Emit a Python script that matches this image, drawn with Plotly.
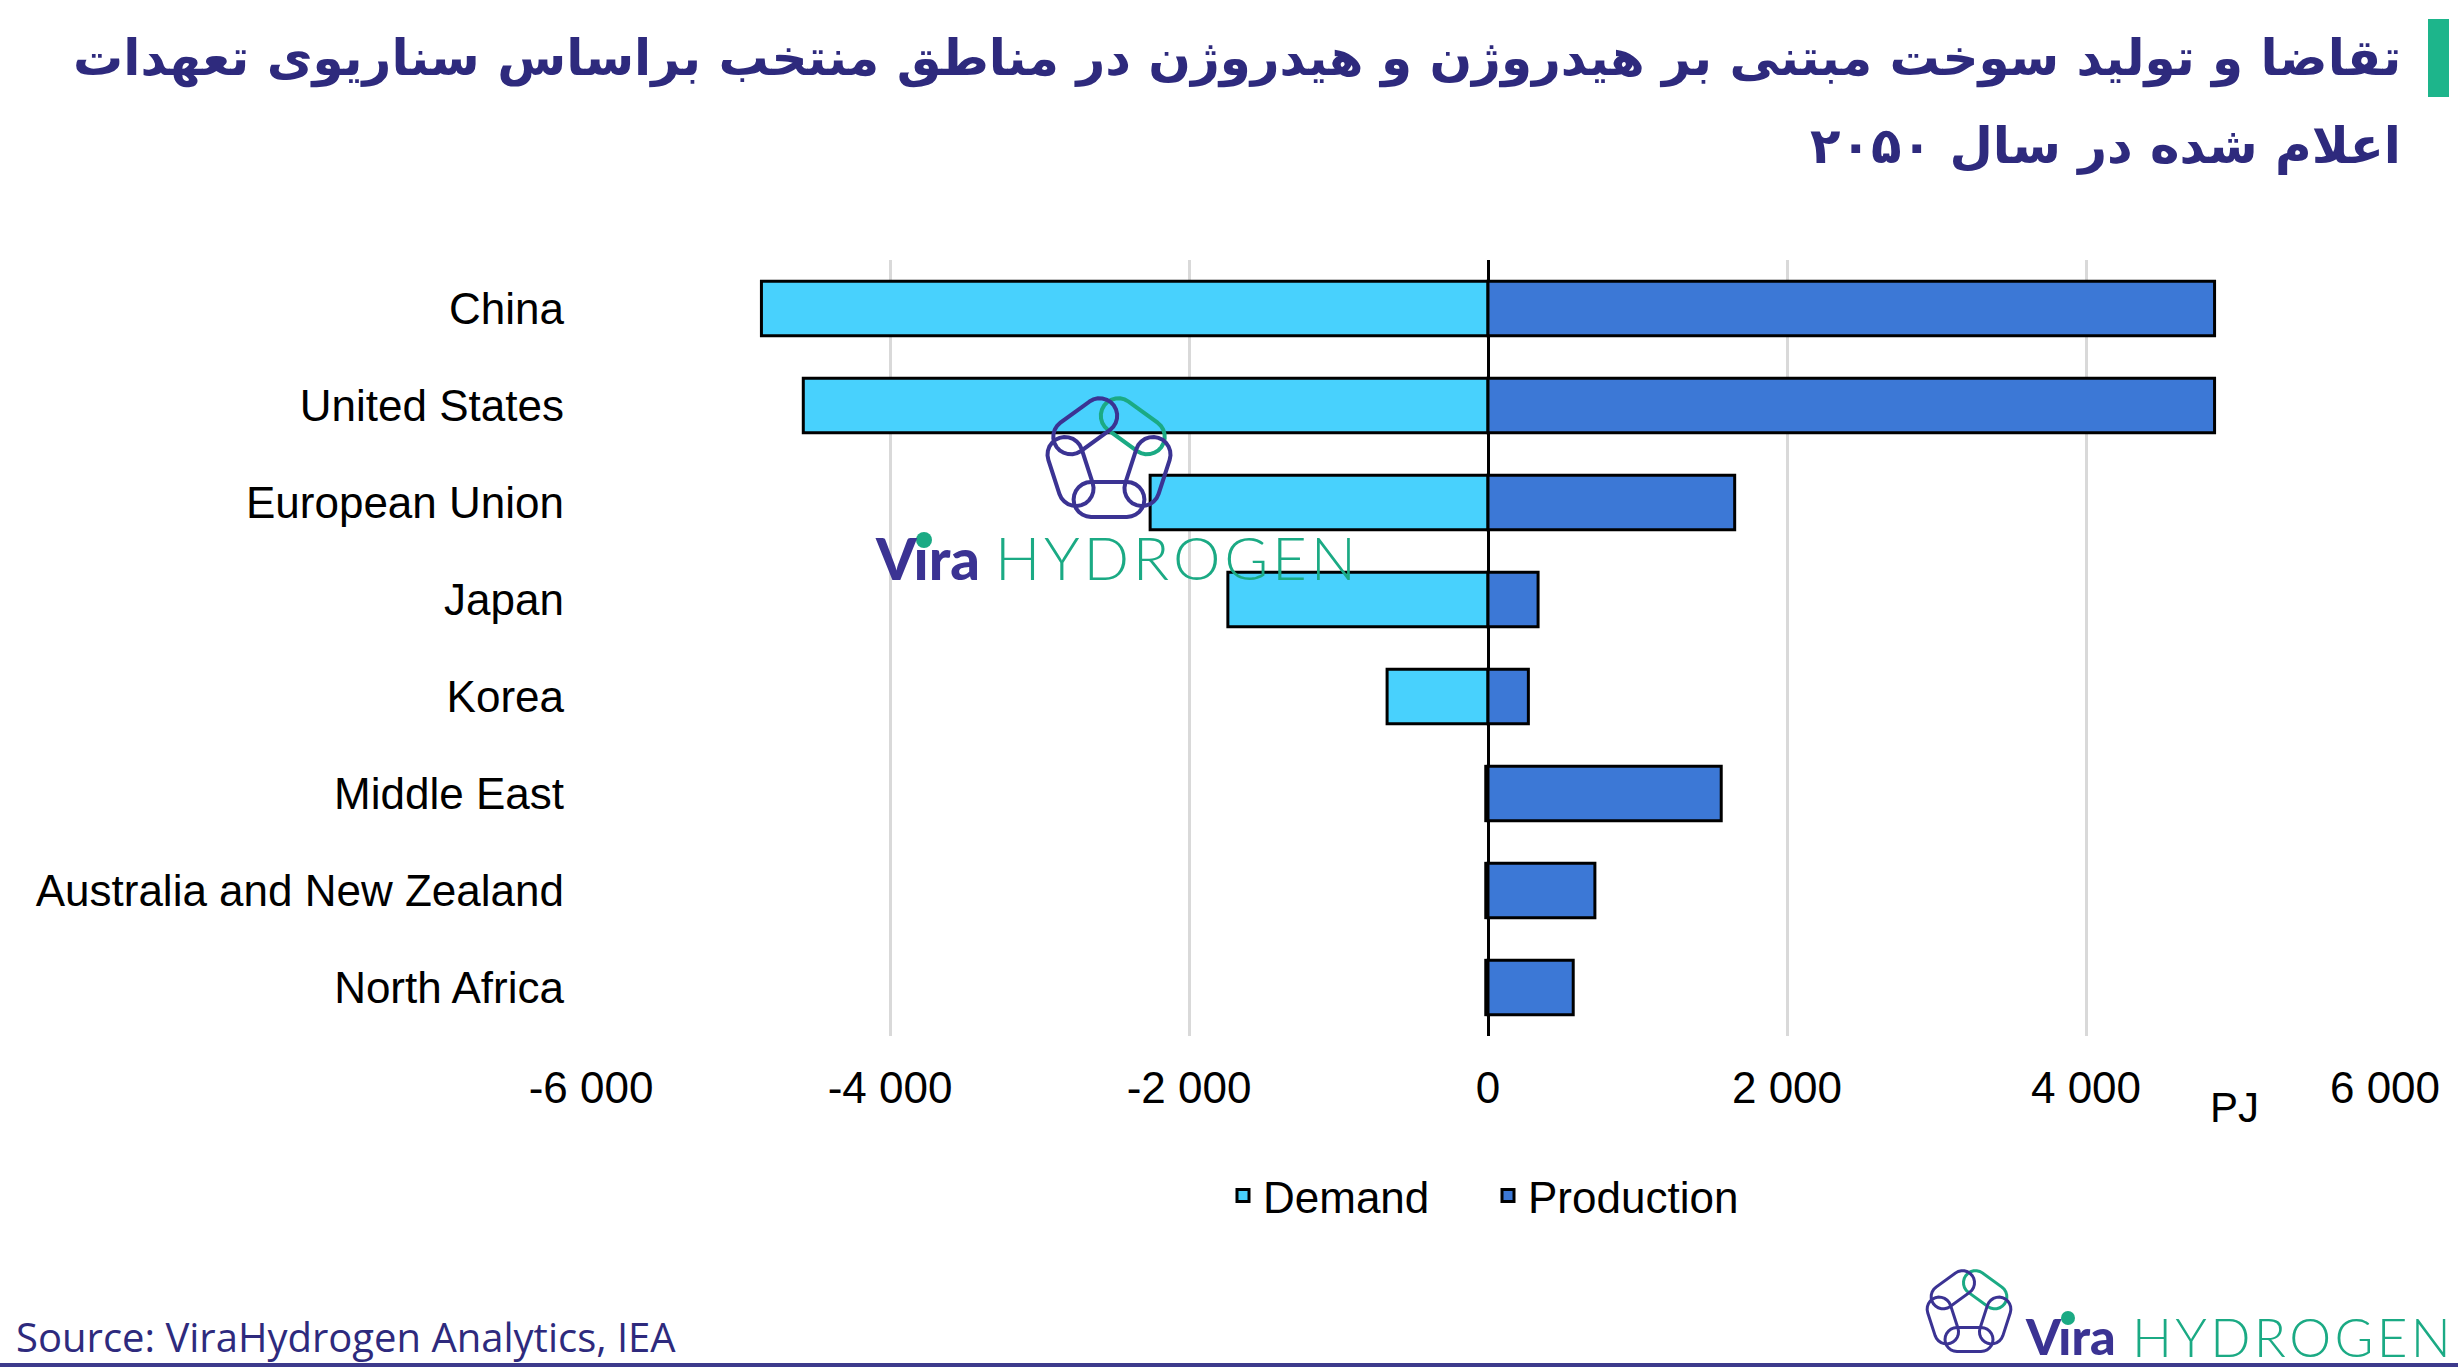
import math
import plotly.graph_objects as go

# data (PJ, 2050, announced pledges scenario)
regions = ["China", "United States", "European Union", "Japan", "Korea",
           "Middle East", "Australia and New Zealand", "North Africa"]
demand = [-4860, -4580, -2260, -1740, -675, -15, -15, -15]
production = [4860, 4860, 1650, 335, 270, 1560, 715, 570]
x_ticks = [-6000, -4000, -2000, 0, 2000, 4000, 6000]
x_tick_labels = ["-6 000", "-4 000", "-2 000", "0", "2 000", "4 000", "6 000"]

title_1 = "تقاضا و تولید سوخت مبتنی بر هیدروژن و هیدروژن در مناطق منتخب براساس سناریوی تعهدات"
title_2 = "اعلام شده در سال ۲۰۵۰"
source = "Source: ViraHydrogen Analytics, IEA"

W, H = 2458, 1372
L, R, T, B = 591, 73, 260, 336
NAVY = "#2E2A7D"
LOGO_NAVY = "#3B3393"
GREEN = "#1BAA84"
HYD = "\u200a".join("HYDROGEN")


def px(x):
    return (x - L) / (W - L - R)


def py(y):
    return (H - B - y) / (H - T - B)


def link_path(cx, cy, ang, length, width):
    r = width / 2
    half = length / 2 - r
    ca, sa = math.cos(ang), math.sin(ang)
    pts = []
    for end, start in ((half, -90), (-half, 90)):
        for k in range(13):
            t = math.radians(start + 15 * k)
            lx = end + r * math.cos(t)
            ly = r * math.sin(t)
            pts.append((cx + lx * ca - ly * sa, cy + lx * sa + ly * ca))
    return "M" + " L".join(f"{px(a):.5f},{py(b):.5f}" for a, b in pts) + " Z"


def logo_shapes(cx, cy, rad, width, extra, lw):
    verts = [(cx + rad * math.cos(math.radians(90 - 72 * k)),
              cy - rad * math.sin(math.radians(90 - 72 * k))) for k in range(5)]
    out = []
    for k in range(5):
        (x1, y1), (x2, y2) = verts[k], verts[(k + 1) % 5]
        ang = math.atan2(y2 - y1, x2 - x1)
        length = math.hypot(x2 - x1, y2 - y1) + extra
        out.append(dict(type="path", xref="paper", yref="paper",
                        path=link_path((x1 + x2) / 2, (y1 + y2) / 2, ang, length, width),
                        line=dict(color=GREEN if k == 0 else LOGO_NAVY, width=lw),
                        fillcolor="rgba(0,0,0,0)", layer="above"))
    return out


fig = go.Figure()
fig.add_trace(go.Bar(y=regions, x=demand, name="Demand", orientation="h",
                     marker=dict(color="#48D1FD", line=dict(color="black", width=3))))
fig.add_trace(go.Bar(y=regions, x=production, name="Production", orientation="h",
                     marker=dict(color="#3C78D6", line=dict(color="black", width=3))))

shapes = []
# green accent next to the title
shapes.append(dict(type="rect", xref="paper", yref="paper", x0=px(2428), x1=px(2449),
                   y0=py(19), y1=py(97), fillcolor="#1DB58B", line=dict(width=0)))
# bottom rule
shapes.append(dict(type="line", xref="paper", yref="paper", x0=px(0), x1=px(W),
                   y0=py(1365), y1=py(1365), line=dict(color="#3D3A8C", width=4)))
# logos
shapes += logo_shapes(1109, 459, 50, 35, 12, 4)
shapes += logo_shapes(1969, 1312, 34, 24, 8, 3)
# green dots on the "i"
shapes.append(dict(type="circle", xref="paper", yref="paper", x0=px(916), x1=px(932),
                   y0=py(532), y1=py(548), fillcolor=GREEN, line=dict(width=0)))
shapes.append(dict(type="circle", xref="paper", yref="paper", x0=px(2061), x1=px(2075),
                   y0=py(1311), y1=py(1325), fillcolor=GREEN, line=dict(width=0)))

annotations = [
    dict(text=f"<b>{title_1}</b>", x=px(2403), y=py(58), xanchor="right", yanchor="middle",
         font=dict(family="DejaVu Sans", size=50, color=NAVY)),
    dict(text=f"<b>{title_2}</b>", x=px(2403), y=py(146), xanchor="right", yanchor="middle",
         font=dict(family="DejaVu Sans", size=50, color=NAVY)),
    dict(text="PJ", x=px(2234), y=py(1107), xanchor="center", yanchor="middle",
         font=dict(family="Liberation Sans", size=42, color="black")),
    dict(text=source, x=px(14), y=py(1336), xanchor="left", yanchor="middle",
         font=dict(family="Open Sans", size=40, color=NAVY)),
    dict(text="Vıra", x=px(873), y=py(557), xanchor="left", yanchor="middle",
         font=dict(family="Lato", size=58, color=LOGO_NAVY, weight=900)),
    dict(text=HYD, x=px(993), y=py(557), xanchor="left", yanchor="middle",
         font=dict(family="Lato", size=60, color=GREEN, weight=300)),
    dict(text="Vıra", x=px(2023), y=py(1336), xanchor="left", yanchor="middle",
         font=dict(family="Lato", size=50, color=LOGO_NAVY, weight=900)),
    dict(text=HYD, x=px(2130), y=py(1336), xanchor="left", yanchor="middle",
         font=dict(family="Lato", size=53, color=GREEN, weight=300)),
]
for a in annotations:
    a.update(xref="paper", yref="paper", showarrow=False)

fig.update_layout(
    width=W, height=H,
    margin=dict(l=L, r=R, t=T, b=B),
    paper_bgcolor="white", plot_bgcolor="white",
    barmode="relative", bargap=0.44,
    font=dict(family="Liberation Sans", size=44, color="black"),
    legend=dict(orientation="h", x=0.5, xanchor="center", y=py(1196), yanchor="middle",
                font=dict(size=44), itemwidth=30, traceorder="normal",
                entrywidth=220, entrywidthmode="pixels"),
    shapes=shapes, annotations=annotations,
)
fig.update_xaxes(range=[-6000, 6000], tickvals=x_ticks, ticktext=x_tick_labels,
                 showgrid=True, gridcolor="#D9D9D9", gridwidth=3,
                 zeroline=True, zerolinecolor="black", zerolinewidth=3,
                 showline=False, ticks="", ticklabelstandoff=22)
fig.update_yaxes(autorange="reversed", showgrid=False, zeroline=False, showline=False,
                 ticks="", ticklabelstandoff=26)

fig.write_html("out.html", config={"displayModeBar": False},
               post_script="document.body.style.margin='0';")
